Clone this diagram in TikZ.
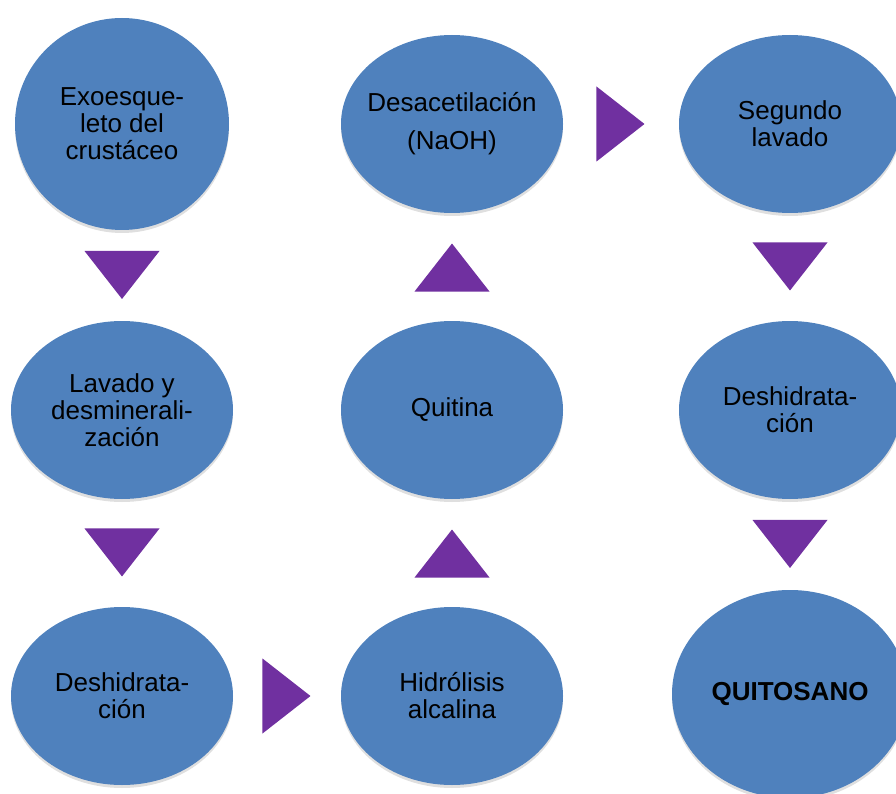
\documentclass[tikz,border=0pt]{standalone}
\usepackage{fontspec}
\setmainfont{Liberation Sans}
\usetikzlibrary{shapes.geometric,shadows,calc}

\definecolor{azul}{HTML}{4F81BD}
\definecolor{morado}{HTML}{7030A0}

\begin{document}
\begin{tikzpicture}[x=1pt,y=-1pt,
		etapa/.style={ellipse,fill=azul,minimum width=222pt,minimum height=178pt,inner xsep=-20pt,inner ysep=0pt,align=center,
			font=\fontsize{26}{27}\selectfont,drop shadow={shadow xshift=0pt,shadow yshift=-3pt,opacity=.25}},
		flecha/.style={isosceles triangle,isosceles triangle stretches,fill=morado,minimum width=75pt,minimum height=48pt,inner sep=0pt,anchor=apex}]
		\clip (0,0) rectangle (896,794);
		\node[etapa,minimum width=214pt,minimum height=212pt] (exo) at (122,124) {Exoesque-\\leto del\\crustáceo};
		\node[etapa] (lav) at (122,410) {Lavado y\\desminerali-\\zación};
		\node[etapa] (desh1) at (122,696) {Deshidrata-\\ción};
		\node[etapa] (hidro) at (452,696) {Hidrólisis\\alcalina};
		\node[etapa] (quitina) at (452,410) {Quitina};
		\node[etapa] (desac) at (452,124) {Desacetilación\\[11pt](NaOH)};
		\node[etapa] (seg) at (790,124) {Segundo\\lavado};
		\node[etapa] (desh2) at (790,410) {Deshidrata-\\ción};
		\node[etapa,minimum width=236pt,minimum height=208pt,font=\fontsize{26}{27}\selectfont\bfseries] (quito) at (790,694) {QUITOSANO};
		\node[flecha,shape border rotate=270,yshift=-24pt] (f1) at ($(exo.south)!.5!(lav.north)$) {};
		\node[flecha,shape border rotate=270,yshift=-24pt] (f2) at ($(lav.south)!.5!(desh1.north)$) {};
		\node[flecha,xshift=24pt] (f3) at ($(desh1.east)!.5!(hidro.west)$) {};
		\node[flecha,shape border rotate=90,yshift=24pt] (f4) at ($(hidro.north)!.5!(quitina.south)$) {};
		\node[flecha,shape border rotate=90,yshift=24pt] (f5) at ($(quitina.north)!.5!(desac.south)$) {};
		\node[flecha,xshift=24pt] (f6) at ($(desac.east)!.5!(seg.west)$) {};
		\node[flecha,shape border rotate=270,yshift=-24pt] (f7) at ($(seg.south)!.5!(desh2.north)$) {};
		\node[flecha,shape border rotate=270,yshift=-24pt] (f8) at ($(desh2.south)!.5!(quito.north)$) {};
	\end{tikzpicture}
\end{document}
